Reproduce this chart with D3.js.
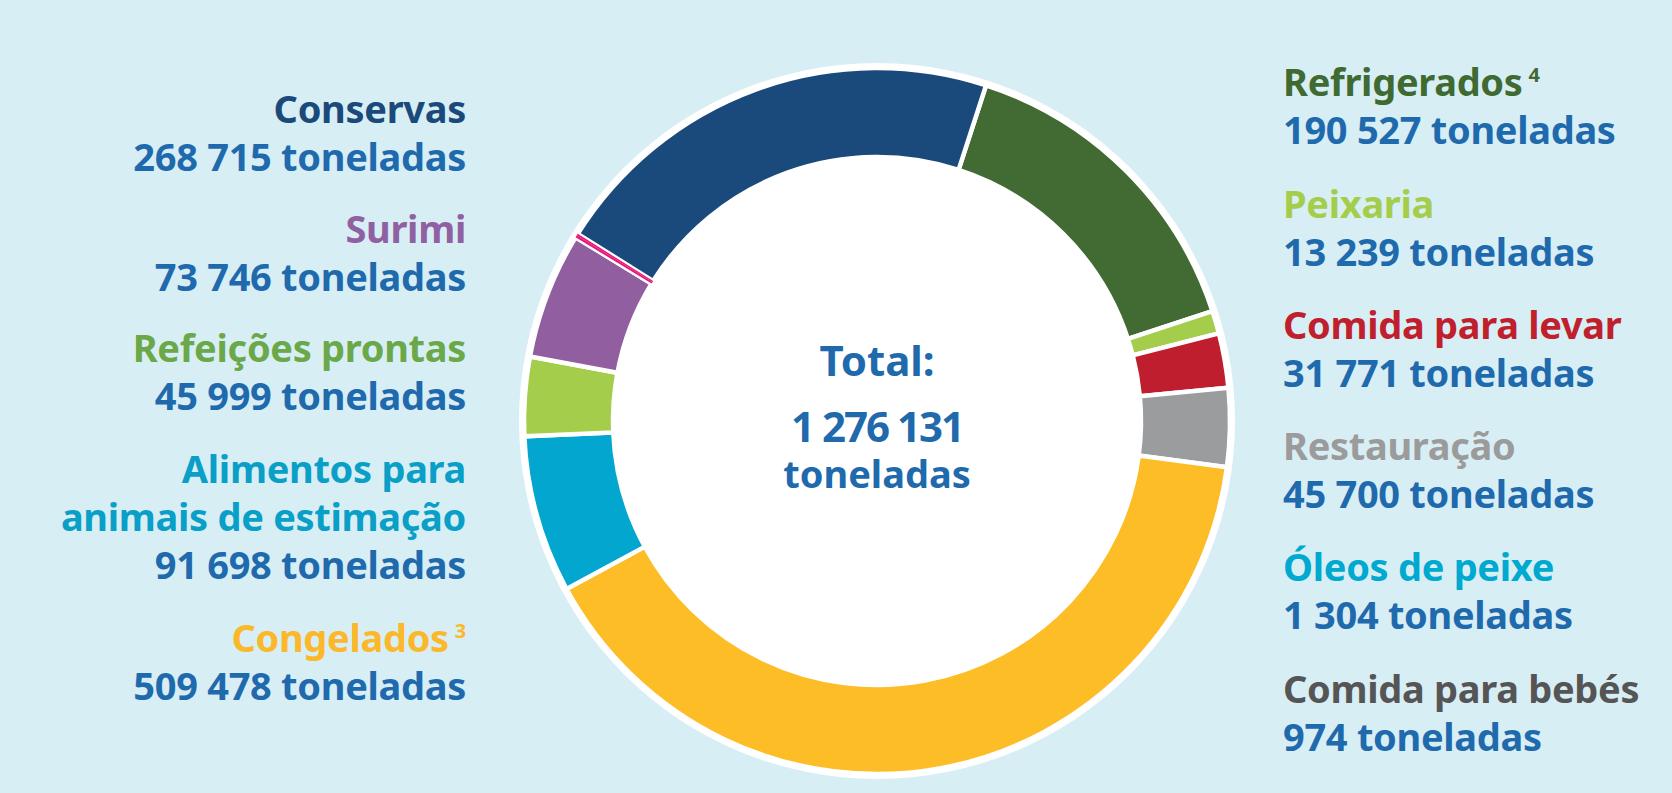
<!DOCTYPE html>
<html><head><meta charset="utf-8">
<script src="https://cdn.jsdelivr.net/npm/d3@7"></script>
<style>body{margin:0;background:#d8eef5}svg{display:block}text{font-family:"Noto Sans";font-weight:700}</style>
</head><body>
<svg id="c" width="1672" height="793"></svg>
<script>
// slice order clockwise from Refrigerados
const categories = ["Refrigerados","Peixaria","Comida para levar","Restauração","Congelados","Alimentos para animais de estimação","Refeições prontas","Surimi","Óleos de peixe","Comida para bebés","Conservas"];
const values = [190527,13239,31771,45700,509478,91698,45999,73746,1304,974,268715];
const sliceColors = ["#426a33","#a3cd4b","#be1e2d","#9a9c9d","#fdbd27","#02a6cf","#a3cd4b","#915e9f","#e8157a","#e8157a","#1a4a7c"];
const labelColors = {"Conservas":"#1b4a7a","Surimi":"#9060a2","Refeições prontas":"#6aa84a","Alimentos para animais de estimação":"#0a9fc6","Congelados":"#fbb82a","Refrigerados":"#3f6a32","Peixaria":"#a4cd4c","Comida para levar":"#c01f2e","Restauração":"#9b9b9b","Óleos de peixe":"#00a9d0","Comida para bebés":"#555555"};
const leftLabels = [
 {lines:["Conservas"],val:"268 715 toneladas",y:[123,171]},
 {lines:["Surimi"],val:"73 746 toneladas",y:[243,291]},
 {lines:["Refeições prontas"],val:"45 999 toneladas",y:[362,410]},
 {lines:["Alimentos para","animais de estimação"],val:"91 698 toneladas",y:[483,531,579],key:"Alimentos para animais de estimação"},
 {lines:["Congelados"],val:"509 478 toneladas",y:[652,700],sup:"3"}];
const rightLabels = [
 {lines:["Refrigerados"],val:"190 527 toneladas",y:[96,144],sup:"4"},
 {lines:["Peixaria"],val:"13 239 toneladas",y:[218,266]},
 {lines:["Comida para levar"],val:"31 771 toneladas",y:[339,387]},
 {lines:["Restauração"],val:"45 700 toneladas",y:[460,508]},
 {lines:["Óleos de peixe"],val:"1 304 toneladas",y:[581,629]},
 {lines:["Comida para bebés"],val:"974 toneladas",y:[703,751]}];
const totalLines = ["Total:","1 276 131","toneladas"];

const svg = d3.select("#c");
const cx=877, cy=421, R=353, r=264;
const g = svg.append("g").attr("transform",`translate(${cx},${cy})`);
g.append("circle").attr("r",R+5).attr("fill","#fff");
const start = 18*Math.PI/180;
const pie = d3.pie().sort(null).startAngle(start).endAngle(start+2*Math.PI);
const arc = d3.arc().innerRadius(r).outerRadius(R);
const arcs = pie(values);
g.selectAll("path.s").data(arcs).join("path").attr("class","s")
 .attr("d",arc).attr("fill",(d,i)=>sliceColors[i]).attr("stroke","#fff").attr("stroke-width",4.5);
g.selectAll("path.p").data(arcs.filter((d,i)=>i==8||i==9)).join("path").attr("class","p")
 .attr("d",arc).attr("fill","#e8157a");
g.append("circle").attr("r",r-2).attr("fill","#fff");
const ty=[376,442,488], ts=[42,42,38];
totalLines.forEach((t,i)=>g.append("text").attr("x",0).attr("y",ty[i]-cy).attr("text-anchor","middle")
 .attr("font-size",ts[i]).attr("fill","#1f6aad").attr("letter-spacing",i==1?-2:0).text(t));

function draw(list,x,anchor){
 list.forEach(L=>{
  const key=L.key||L.lines[0];
  L.lines.forEach((ln,i)=>{
   const t=svg.append("text").attr("x",x).attr("y",L.y[i]).attr("text-anchor",anchor)
    .attr("font-size",38).attr("letter-spacing",-0.3).attr("fill",labelColors[key]).text(ln);
   if(L.sup&&i==0) t.append("tspan").attr("font-size",20).attr("dx",6).attr("dy",-14).text(L.sup);
  });
  svg.append("text").attr("x",x).attr("y",L.y[L.lines.length]).attr("text-anchor",anchor)
   .attr("font-size",38).attr("letter-spacing",-0.3).attr("fill","#1f6aad").text(L.val);
 });
}
draw(leftLabels,466,"end");
draw(rightLabels,1283,"start");
</script></body></html>
